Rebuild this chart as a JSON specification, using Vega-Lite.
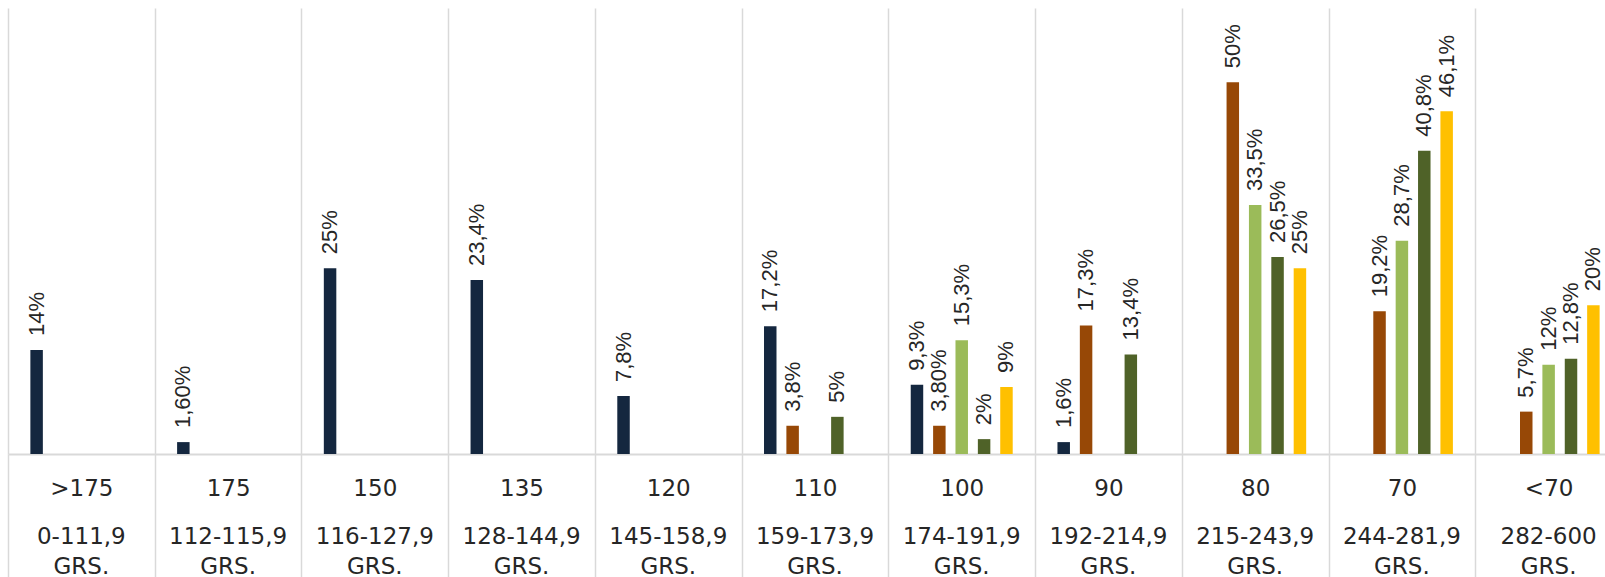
{
  "$schema": "https://vega.github.io/schema/vega-lite/v6.json",
  "autosize": "none",
  "width": 1597,
  "height": 446,
  "padding": {"left": 8, "top": 8, "right": 0, "bottom": 123},
  "background": "#ffffff",
  "config": {"view": {"stroke": null}},
  "data": {
    "values": [
      {"grupo": ">175|0-111,9|GRS.", "serie": "s1", "valor": 14, "etiqueta": "14%"},
      {"grupo": "175|112-115,9|GRS.", "serie": "s1", "valor": 1.6, "etiqueta": "1,60%"},
      {"grupo": "150|116-127,9|GRS.", "serie": "s1", "valor": 25, "etiqueta": "25%"},
      {"grupo": "135|128-144,9|GRS.", "serie": "s1", "valor": 23.4, "etiqueta": "23,4%"},
      {"grupo": "120|145-158,9|GRS.", "serie": "s1", "valor": 7.8, "etiqueta": "7,8%"},
      {"grupo": "110|159-173,9|GRS.", "serie": "s1", "valor": 17.2, "etiqueta": "17,2%"},
      {"grupo": "110|159-173,9|GRS.", "serie": "s2", "valor": 3.8, "etiqueta": "3,8%"},
      {"grupo": "110|159-173,9|GRS.", "serie": "s4", "valor": 5, "etiqueta": "5%"},
      {"grupo": "100|174-191,9|GRS.", "serie": "s1", "valor": 9.3, "etiqueta": "9,3%"},
      {"grupo": "100|174-191,9|GRS.", "serie": "s2", "valor": 3.8, "etiqueta": "3,80%"},
      {"grupo": "100|174-191,9|GRS.", "serie": "s3", "valor": 15.3, "etiqueta": "15,3%"},
      {"grupo": "100|174-191,9|GRS.", "serie": "s4", "valor": 2, "etiqueta": "2%"},
      {"grupo": "100|174-191,9|GRS.", "serie": "s5", "valor": 9, "etiqueta": "9%"},
      {"grupo": "90|192-214,9|GRS.", "serie": "s1", "valor": 1.6, "etiqueta": "1,6%"},
      {"grupo": "90|192-214,9|GRS.", "serie": "s2", "valor": 17.3, "etiqueta": "17,3%"},
      {"grupo": "90|192-214,9|GRS.", "serie": "s4", "valor": 13.4, "etiqueta": "13,4%"},
      {"grupo": "80|215-243,9|GRS.", "serie": "s2", "valor": 50, "etiqueta": "50%"},
      {"grupo": "80|215-243,9|GRS.", "serie": "s3", "valor": 33.5, "etiqueta": "33,5%"},
      {"grupo": "80|215-243,9|GRS.", "serie": "s4", "valor": 26.5, "etiqueta": "26,5%"},
      {"grupo": "80|215-243,9|GRS.", "serie": "s5", "valor": 25, "etiqueta": "25%"},
      {"grupo": "70|244-281,9|GRS.", "serie": "s2", "valor": 19.2, "etiqueta": "19,2%"},
      {"grupo": "70|244-281,9|GRS.", "serie": "s3", "valor": 28.7, "etiqueta": "28,7%"},
      {"grupo": "70|244-281,9|GRS.", "serie": "s4", "valor": 40.8, "etiqueta": "40,8%"},
      {"grupo": "70|244-281,9|GRS.", "serie": "s5", "valor": 46.1, "etiqueta": "46,1%"},
      {"grupo": "<70|282-600|GRS.", "serie": "s2", "valor": 5.7, "etiqueta": "5,7%"},
      {"grupo": "<70|282-600|GRS.", "serie": "s3", "valor": 12, "etiqueta": "12%"},
      {"grupo": "<70|282-600|GRS.", "serie": "s4", "valor": 12.8, "etiqueta": "12,8%"},
      {"grupo": "<70|282-600|GRS.", "serie": "s5", "valor": 20, "etiqueta": "20%"}
    ]
  },
  "encoding": {
    "x": {
      "field": "grupo",
      "type": "nominal",
      "sort": null,
      "scale": {"range": [0, 1614], "paddingInner": 0, "paddingOuter": 0}
    },
    "xOffset": {
      "field": "serie",
      "type": "nominal",
      "scale": {"domain": ["s1", "s2", "s3", "s4", "s5"], "paddingInner": 0.442, "paddingOuter": 1.13}
    },
    "y": {
      "field": "valor",
      "type": "quantitative",
      "scale": {"domain": [0, 60], "nice": false},
      "axis": null
    }
  },
  "layer": [
    {
      "mark": {"type": "bar"},
      "encoding": {
        "color": {
          "field": "serie",
          "type": "nominal",
          "scale": {"domain": ["s1", "s2", "s3", "s4", "s5"], "range": ["#14273f", "#974806", "#9bbb59", "#4f6228", "#ffc000"]},
          "legend": null
        },
        "x": {
          "field": "grupo",
          "type": "nominal",
          "sort": null,
          "title": null,
          "axis": {
            "orient": "bottom",
            "title": null,
            "grid": true,
            "gridColor": "#d9d9d9",
            "gridWidth": 1.5,
            "tickBand": "extent",
            "ticks": true,
            "tickSize": 130,
            "tickColor": "#d9d9d9",
            "tickWidth": 1.5,
            "domain": true,
            "domainColor": "#d9d9d9",
            "domainWidth": 2,
            "labelExpr": "isString(datum.value) ? split(datum.value, '|')[0] : ''",
            "labelAngle": 0,
            "labelFont": "DejaVu Sans",
            "labelFontSize": 23,
            "labelColor": "#262626",
            "labelBaseline": "alphabetic",
            "labelPadding": -89,
            "labelOverlap": false,
            "labelLimit": 0
          }
        }
      }
    },
    {
      "mark": {"type": "text", "angle": 270, "align": "left", "baseline": "middle", "dx": 14, "font": "Liberation Sans", "fontSize": 22, "color": "#262626"},
      "encoding": {
        "text": {"field": "etiqueta", "type": "nominal"},
        "x": {
          "field": "grupo",
          "type": "nominal",
          "sort": null,
          "title": null,
          "axis": {
            "orient": "bottom",
            "title": null,
            "grid": false,
            "ticks": false,
            "domain": false,
            "labelExpr": "isString(datum.value) ? slice(split(datum.value, '|'), 1) : ''",
            "labelAngle": 0,
            "labelFont": "DejaVu Sans",
            "labelFontSize": 23,
            "labelColor": "#262626",
            "labelBaseline": "alphabetic",
            "labelLineHeight": 30,
            "labelPadding": 89,
            "labelOverlap": false,
            "labelLimit": 0
          }
        }
      }
    }
  ],
  "resolve": {"axis": {"x": "independent"}}
}
